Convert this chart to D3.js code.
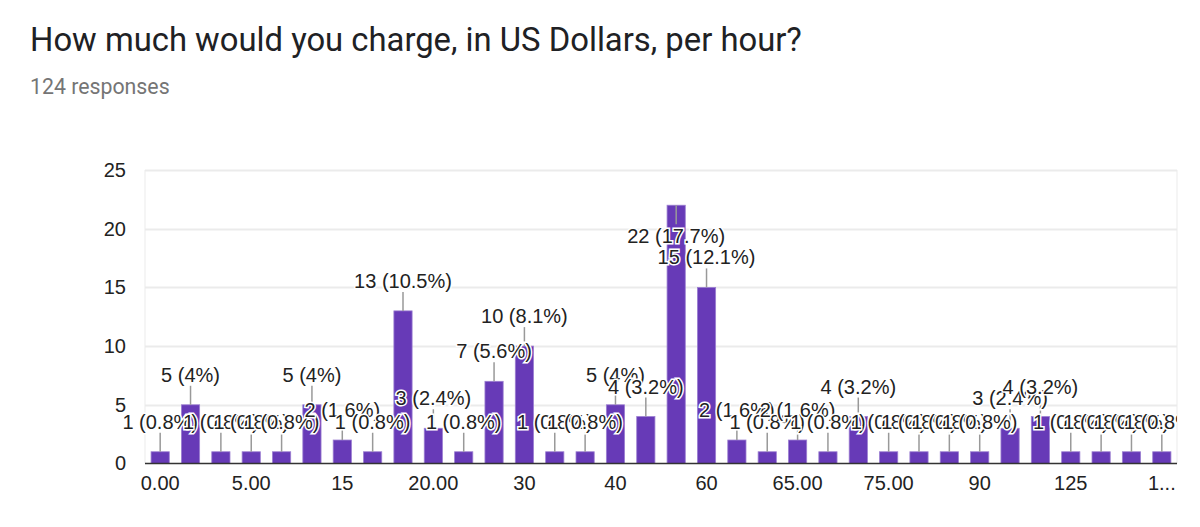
<!DOCTYPE html>
<html>
<head>
<meta charset="utf-8">
<script src="https://cdn.jsdelivr.net/npm/d3@7"></script>
<style>
  body { margin: 0; background: #fff; }
  svg { display: block; }
</style>
</head>
<body>
<svg width="1200" height="527"></svg>
<script>
const svg = d3.select('svg');

// chart data
const title = 'How much would you charge, in US Dollars, per hour?';
const totalResponses = 124;
const categories = ['0.00', '2', '3', '5.00', '7', '10', '15', '16', '18', '20.00', '22', '25', '30', '30.00', '35',
  '40', '45', '50', '60', '60.00', '63', '65.00', '70', '75', '75.00', '80', '85', '90', '100', '110',
  '125', '130', '140', '150'];
const counts = [1, 5, 1, 1, 1, 5, 2, 1, 13, 3, 1, 7, 10, 1, 1,
  5, 4, 22, 15, 2, 1, 2, 1, 4, 1, 1, 1, 1, 3, 4,
  1, 1, 1, 1];
const yTicks = [0, 5, 10, 15, 20, 25];
// only every third category gets a label on the axis
const xTickLabels = ['0.00', '5.00', '15', '20.00', '30', '40', '60', '65.00', '75.00', '90', '125', '1...'];

const data = categories.map((c, i) => ({cat: c, val: counts[i]}));

/////////////////////////////////////////////
// layout
const plot = {left: 145, right: 1177, top: 170, bottom: 463.5};
const FONT = '"Liberation Sans", Arial, sans-serif';

// header
svg.append('text')
  .attr('x', 30).attr('y', 51)
  .attr('font-family', 'Roboto, sans-serif')
  .attr('font-size', 32.8)
  .attr('fill', '#202124')
  .text(title);

svg.append('text')
  .attr('x', 30).attr('y', 94)
  .attr('font-family', 'Roboto, sans-serif')
  .attr('font-size', 21.3)
  .attr('fill', '#757575')
  .text(totalResponses + ' responses');

const xScale = d3.scaleBand()
  .domain(categories)
  .range([plot.left, plot.right])
  .paddingInner(0.4)
  .paddingOuter(0.2);

const yScale = d3.scaleLinear()
  .domain([0, 25])
  .range([plot.bottom, plot.top]);

// annotations get cut at the right edge of the chart area
svg.append('defs').append('clipPath')
  .attr('id', 'annClip')
  .append('rect')
  .attr('x', 0).attr('y', 0)
  .attr('width', plot.right).attr('height', 527);

// gridlines
svg.append('g')
  .selectAll('line')
  .data(yTicks.filter(t => t > 0))
  .enter().append('line')
  .attr('x1', plot.left).attr('x2', plot.right)
  .attr('y1', d => Math.round(yScale(d)) + 0.5)
  .attr('y2', d => Math.round(yScale(d)) + 0.5)
  .attr('stroke', '#ebebeb')
  .attr('stroke-width', 2);

// light plot edges
[plot.left, plot.right].forEach(x => {
  svg.append('line')
    .attr('x1', x).attr('x2', x)
    .attr('y1', plot.top).attr('y2', plot.bottom)
    .attr('stroke', '#ebebeb');
});

// y axis
const yAxis = d3.axisLeft(yScale).tickValues(yTicks).tickSize(0).tickPadding(19);
const yG = svg.append('g')
  .attr('transform', `translate(${plot.left},0)`)
  .call(yAxis);
yG.select('.domain').remove();
yG.selectAll('text')
  .attr('font-family', FONT)
  .attr('font-size', 20)
  .attr('fill', '#222');

// x axis
const shown = categories.filter((c, i) => i % 3 === 0);
const xAxis = d3.axisBottom(xScale)
  .tickValues(shown)
  .tickFormat((d, i) => xTickLabels[i])
  .tickSize(0)
  .tickPadding(12);
const xG = svg.append('g')
  .attr('transform', `translate(0,${plot.bottom})`)
  .call(xAxis);
xG.select('.domain').remove();
xG.selectAll('text')
  .attr('font-family', FONT)
  .attr('font-size', 20)
  .attr('fill', '#222');

// bars
svg.append('g')
  .selectAll('rect')
  .data(data)
  .enter().append('rect')
  .attr('x', d => xScale(d.cat))
  .attr('y', d => yScale(d.val))
  .attr('width', xScale.bandwidth())
  .attr('height', d => plot.bottom - yScale(d.val))
  .attr('fill', '#673ab7')
  .attr('stroke', '#9c7fd1')
  .attr('stroke-width', 0.8);

// baseline
svg.append('line')
  .attr('x1', plot.left).attr('x2', plot.right)
  .attr('y1', plot.bottom).attr('y2', plot.bottom)
  .attr('stroke', '#333')
  .attr('stroke-width', 1.5);

// annotations: stem + "n (p%)" label, flipped into the bar when it would leave the plot
const STEM = 19, GAP = 4, CAP = 14.3;
const pct = v => +(v / totalResponses * 100).toFixed(1);
const ann = data.map(d => {
  const top = yScale(d.val);
  const cx = xScale(d.cat) + xScale.bandwidth() / 2;
  const flip = top - STEM - GAP - CAP < plot.top;
  return {
    cx: cx,
    top: top,
    flip: flip,
    stemEnd: flip ? top + STEM : top - STEM,
    base: flip ? top + STEM + GAP + CAP : top - STEM - GAP,
    label: `${d.val} (${pct(d.val)}%)`
  };
});

svg.append('g')
  .selectAll('line')
  .data(ann)
  .enter().append('line')
  .attr('x1', d => d.cx).attr('x2', d => d.cx)
  .attr('y1', d => d.top).attr('y2', d => d.stemEnd)
  .attr('stroke', '#999')
  .attr('stroke-width', 1.5);

const annG = svg.append('g').attr('clip-path', 'url(#annClip)');
ann.forEach(d => {
  annG.append('text')
    .attr('x', d.cx).attr('y', d.base)
    .attr('text-anchor', 'middle')
    .attr('font-family', FONT)
    .attr('font-size', 20)
    .attr('fill', '#222')
    .attr('stroke', '#fff')
    .attr('stroke-width', 3)
    .attr('paint-order', 'stroke')
    .text(d.label);
});
</script>
</body>
</html>
